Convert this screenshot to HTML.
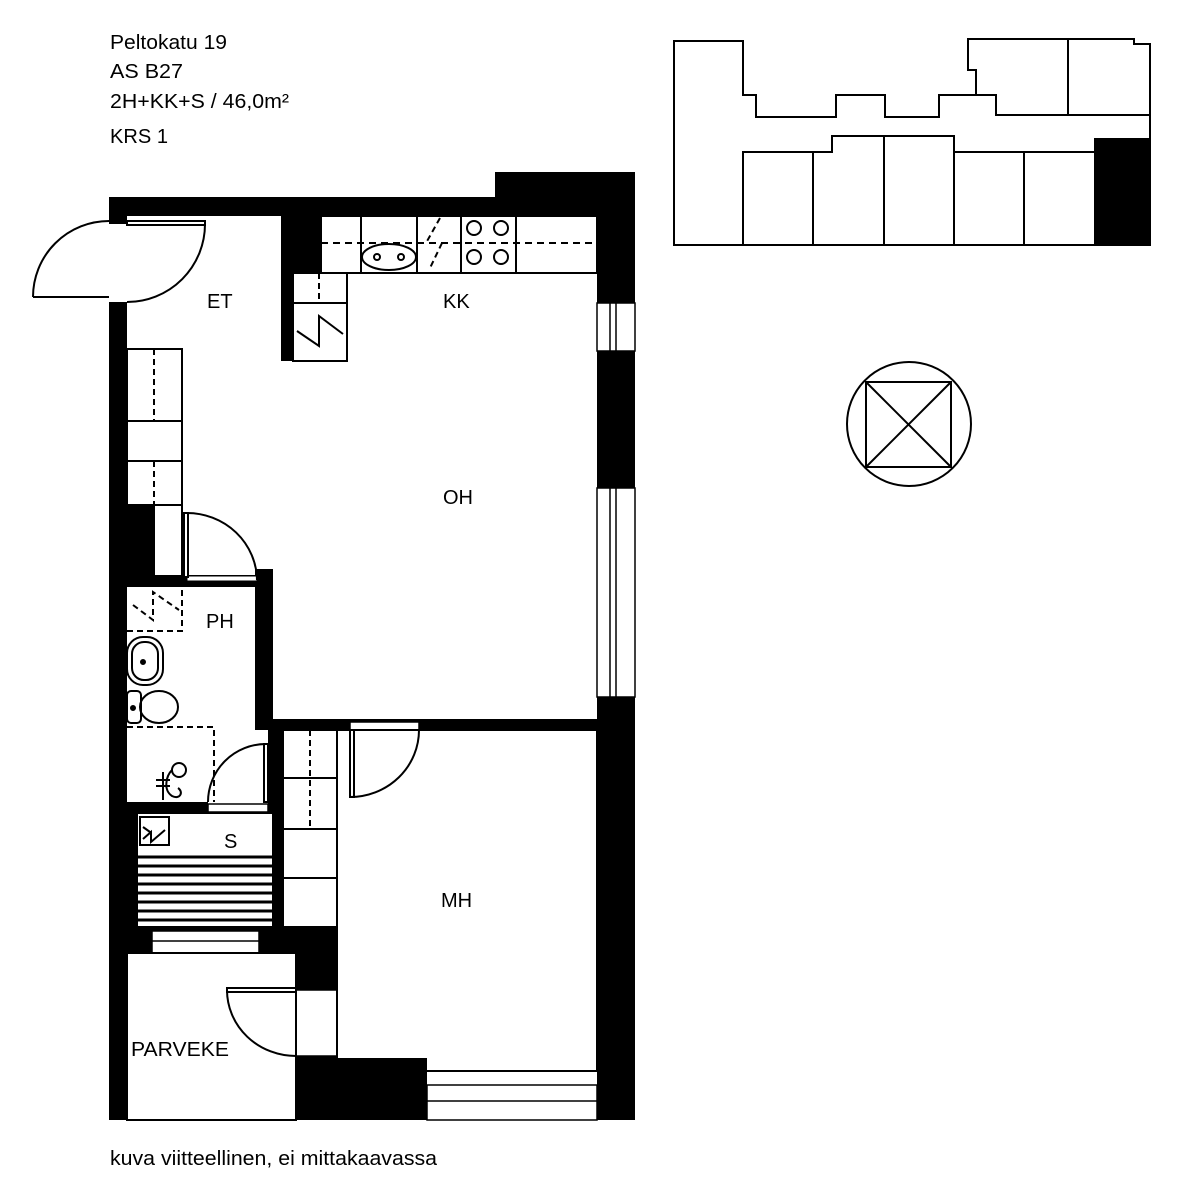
<!DOCTYPE html>
<html><head><meta charset="utf-8"><style>
html,body{margin:0;padding:0;background:#fff;}
svg{display:block;}
text{font-family:"Liberation Sans",Arial,sans-serif;fill:#000;}
</style></head><body>
<svg width="1183" height="1200" viewBox="0 0 1183 1200" xmlns="http://www.w3.org/2000/svg">
<rect width="1183" height="1200" fill="#fff"/>
<g font-size="20">
<text x="110" y="49" textLength="117" lengthAdjust="spacingAndGlyphs">Peltokatu 19</text>
<text x="110" y="78" textLength="73" lengthAdjust="spacingAndGlyphs">AS B27</text>
<text x="110" y="108" textLength="179" lengthAdjust="spacingAndGlyphs">2H+KK+S / 46,0m²</text>
<text x="110" y="143" textLength="58" lengthAdjust="spacingAndGlyphs">KRS 1</text>
<text x="110" y="1165" textLength="327" lengthAdjust="spacingAndGlyphs">kuva viitteellinen, ei mittakaavassa</text>
</g>

<!-- building key plan -->
<g fill="none" stroke="#000" stroke-width="2">
<path d="M674,41 H743 V95 H756 V117 H836 V95 H885 V117 H939 V95 H976 V70 H968 V39 H1134 V44 H1150 V245 H674 Z"/>
<path d="M976,95 H996 V115 H1150"/>
<line x1="1068" y1="39" x2="1068" y2="115"/>
<path d="M743,245 V152 H832 V136 H954 V152 H1094"/>
<line x1="813" y1="152" x2="813" y2="245"/>
<line x1="884" y1="136" x2="884" y2="245"/>
<line x1="954" y1="152" x2="954" y2="245"/>
<line x1="1024" y1="152" x2="1024" y2="245"/>
</g>
<rect x="1094" y="138" width="56" height="107" fill="#000"/>

<!-- compass -->
<g fill="none" stroke="#000" stroke-width="2">
<circle cx="909" cy="424" r="62"/>
<rect x="866" y="382" width="85" height="85"/>
<line x1="866" y1="382" x2="951" y2="467"/>
<line x1="951" y1="382" x2="866" y2="467"/>
</g>

<!-- walls -->
<g fill="#000">
<rect x="109" y="197" width="390" height="19"/>
<rect x="495" y="172" width="140" height="44"/>
<rect x="597" y="172" width="38" height="948"/>
<rect x="109" y="197" width="18" height="923"/>
<rect x="281" y="213" width="40" height="60"/>
<rect x="281" y="213" width="12" height="148"/>
<rect x="127" y="505" width="28" height="75"/>
<rect x="109" y="575" width="152" height="12"/>
<rect x="255" y="569" width="18" height="161"/>
<rect x="261" y="719" width="340" height="11"/>
<rect x="109" y="802" width="99" height="11"/>
<rect x="109" y="802" width="28" height="140"/>
<rect x="268" y="730" width="15" height="200"/>
<rect x="109" y="927" width="228" height="26"/>
<rect x="296" y="927" width="41" height="63"/>
<rect x="296" y="1056" width="131" height="64"/>
<rect x="109" y="1087" width="526" height="33"/>
</g>

<!-- windows / white openings -->
<g fill="#fff" stroke="#000" stroke-width="1.5">
<rect x="109" y="224" width="18" height="78" stroke="none"/>
<rect x="597" y="303" width="38" height="48"/>
<rect x="597" y="488" width="38" height="209"/>
<rect x="427" y="1085" width="170" height="35"/>
<rect x="152" y="931" width="107" height="22"/>
<rect x="127" y="1060" width="169" height="53"/>
<rect x="296" y="990" width="41" height="66"/>
<rect x="187" y="576" width="70" height="5" stroke-width="1"/>
<rect x="208" y="804" width="60" height="8"/>
<rect x="350" y="722" width="69" height="8"/>
</g>
<g stroke="#000" stroke-width="1.5">
<line x1="616" y1="303" x2="616" y2="351"/>
<line x1="610" y1="303" x2="610" y2="351"/>
<line x1="616" y1="488" x2="616" y2="697"/>
<line x1="610" y1="488" x2="610" y2="697"/>
<line x1="427" y1="1101" x2="597" y2="1101"/>
<line x1="152" y1="941" x2="259" y2="941"/>
</g>

<!-- rooms outlines -->
<g fill="#fff" stroke="#000" stroke-width="2">
<rect x="127" y="953" width="169" height="167"/>
<rect x="137" y="813" width="136" height="114"/>
<rect x="337" y="730" width="260" height="341"/>
</g>
<rect x="298" y="1058" width="129" height="29" fill="#000"/>
<rect x="109" y="953" width="18" height="167" fill="#000"/>

<!-- kitchen -->
<g fill="none" stroke="#000" stroke-width="2">
<rect x="321" y="216" width="276" height="57"/>
<line x1="361" y1="216" x2="361" y2="273"/>
<line x1="417" y1="216" x2="417" y2="273"/>
<line x1="461" y1="216" x2="461" y2="273"/>
<line x1="516" y1="216" x2="516" y2="273"/>
<line x1="321" y1="243" x2="597" y2="243" stroke-dasharray="7,5"/>
<ellipse cx="389" cy="257" rx="27" ry="13"/>
<circle cx="377" cy="257" r="3"/><circle cx="401" cy="257" r="3"/>
<circle cx="474" cy="228" r="7"/><circle cx="501" cy="228" r="7"/>
<circle cx="474" cy="257" r="7"/><circle cx="501" cy="257" r="7"/>
<line x1="440" y1="218" x2="426" y2="243" stroke-dasharray="6,4"/>
<line x1="442" y1="243" x2="430" y2="268" stroke-dasharray="6,4"/>
<rect x="293" y="273" width="54" height="88"/>
<line x1="293" y1="303" x2="347" y2="303"/>
<line x1="319" y1="273" x2="319" y2="303" stroke-dasharray="6,4"/>
<path d="M297,331 L319,346 L319,316 L343,334"/>
</g>

<!-- wardrobe left -->
<g fill="#fff" stroke="#000" stroke-width="2">
<rect x="127" y="349" width="55" height="156"/>
<line x1="127" y1="421" x2="182" y2="421"/>
<line x1="127" y1="461" x2="182" y2="461"/>
<line x1="154" y1="349" x2="154" y2="421" stroke-dasharray="6,4"/>
<line x1="154" y1="461" x2="154" y2="505" stroke-dasharray="6,4"/>
<line x1="182" y1="505" x2="182" y2="576"/>
</g>

<!-- closet MH -->
<g fill="#fff" stroke="#000" stroke-width="2">
<rect x="283" y="730" width="54" height="197"/>
<line x1="283" y1="778" x2="337" y2="778"/>
<line x1="283" y1="829" x2="337" y2="829"/>
<line x1="283" y1="878" x2="337" y2="878"/>
<line x1="310" y1="730" x2="310" y2="827" stroke-dasharray="6,4"/>
</g>

<!-- doors -->
<g fill="none" stroke="#000" stroke-width="2">
<line x1="33" y1="297" x2="109" y2="297"/>
<path d="M33,297 A76,76 0 0 1 109,221"/>
<rect x="127" y="221" width="78" height="4" fill="#fff"/>
<path d="M205,224 A78,78 0 0 1 127,302"/>
<rect x="184" y="513" width="4" height="64" fill="#fff"/>
<path d="M187,513 A70,68 0 0 1 257,580"/>
<rect x="264" y="744" width="4" height="58" fill="#fff"/>
<path d="M266,744 A58,58 0 0 0 208,802"/>
<rect x="350" y="730" width="4" height="67" fill="#fff"/>
<path d="M350,797 A69,67 0 0 0 419,730"/>
<rect x="227" y="988" width="69" height="4" fill="#fff"/>
<path d="M227,990 A69,66 0 0 0 296,1056"/>
</g>

<!-- PH fixtures -->
<g fill="none" stroke="#000" stroke-width="2">
<path d="M127,631 H182 V579" stroke-dasharray="6,4"/>
<path d="M133,605 L153,620 L153,592 L179,610" stroke-dasharray="6,4"/>
<rect x="127" y="637" width="36" height="48" rx="16"/>
<rect x="132" y="642" width="26" height="38" rx="12"/>
<circle cx="143" cy="662" r="2" fill="#000"/>
<rect x="127" y="691" width="14" height="32" rx="4"/>
<ellipse cx="159" cy="707" rx="19" ry="16"/>
<circle cx="133" cy="708" r="2" fill="#000"/>
<path d="M127,727 H214 V802" stroke-dasharray="6,4"/>
<circle cx="179" cy="770" r="7"/>
<path d="M172,770 C166,776 163,790 172,796 C180,800 184,792 178,788"/>
<line x1="156" y1="780" x2="170" y2="780"/>
<line x1="156" y1="786" x2="170" y2="786"/>
<line x1="163" y1="772" x2="163" y2="800"/>
</g>

<!-- S room -->
<g fill="none" stroke="#000" stroke-width="2">
<rect x="140" y="817" width="29" height="28"/>
<path d="M143,839 L151,832 L151,842 L165,830 M143,827 L150,832"/>
</g>
<g stroke="#000" stroke-width="3">
<line x1="137" y1="857" x2="273" y2="857"/>
<line x1="137" y1="866" x2="273" y2="866"/>
<line x1="137" y1="875" x2="273" y2="875"/>
<line x1="137" y1="884" x2="273" y2="884"/>
<line x1="137" y1="893" x2="273" y2="893"/>
<line x1="137" y1="902" x2="273" y2="902"/>
<line x1="137" y1="911" x2="273" y2="911"/>
<line x1="137" y1="920" x2="273" y2="920"/>
</g>

<!-- labels -->
<g font-size="20">
<text x="207" y="308">ET</text>
<text x="443" y="308">KK</text>
<text x="443" y="504">OH</text>
<text x="206" y="628">PH</text>
<text x="224" y="848">S</text>
<text x="441" y="907">MH</text>
<text x="131" y="1056" textLength="98" lengthAdjust="spacingAndGlyphs">PARVEKE</text>
</g>
</svg>
</body></html>
